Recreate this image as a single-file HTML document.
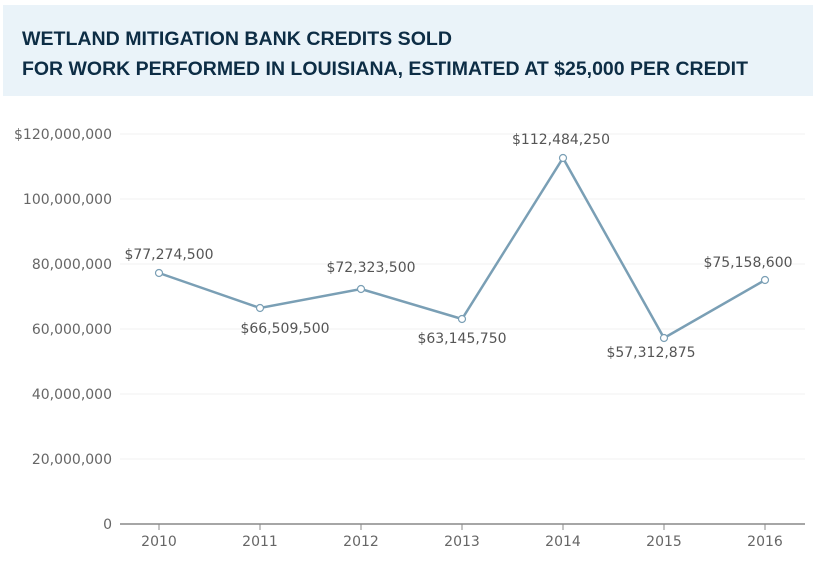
<!DOCTYPE html>
<html><head><style>
body{margin:0;background:#fff;width:820px;height:574px;overflow:hidden}
</style></head><body>
<svg width="820" height="574" xmlns="http://www.w3.org/2000/svg">
<rect x="3" y="5" width="810" height="91" fill="#eaf3f9"/>
<g font-family="Liberation Sans, sans-serif" font-weight="bold" font-size="19" fill="#0d2d45">
<text x="22" y="45" textLength="430" lengthAdjust="spacingAndGlyphs">WETLAND MITIGATION BANK CREDITS SOLD</text>
<text x="22" y="75" textLength="726" lengthAdjust="spacingAndGlyphs">FOR WORK PERFORMED IN LOUISIANA, ESTIMATED AT $25,000 PER CREDIT</text>
</g>
<g stroke="#f0f0f0" stroke-width="1">
<line x1="120" x2="805" y1="134" y2="134"/>
<line x1="120" x2="805" y1="199" y2="199"/>
<line x1="120" x2="805" y1="264" y2="264"/>
<line x1="120" x2="805" y1="329" y2="329"/>
<line x1="120" x2="805" y1="394" y2="394"/>
<line x1="120" x2="805" y1="459" y2="459"/>
</g>
<line x1="120" x2="805" y1="524" y2="524" stroke="#888" stroke-width="1.5"/>
<g stroke="#888"><line x1="159" x2="159" y1="524" y2="530"/><line x1="260" x2="260" y1="524" y2="530"/><line x1="361" x2="361" y1="524" y2="530"/><line x1="462" x2="462" y1="524" y2="530"/><line x1="563" x2="563" y1="524" y2="530"/><line x1="664" x2="664" y1="524" y2="530"/><line x1="765" x2="765" y1="524" y2="530"/></g>
<g font-family="DejaVu Sans, sans-serif" font-size="14" fill="#666" text-anchor="end">
<text x="112" y="139">$120,000,000</text>
<text x="112" y="204">100,000,000</text>
<text x="112" y="269">80,000,000</text>
<text x="112" y="334">60,000,000</text>
<text x="112" y="399">40,000,000</text>
<text x="112" y="464">20,000,000</text>
<text x="112" y="529">0</text>
</g>
<g font-family="DejaVu Sans, sans-serif" font-size="14" fill="#666" text-anchor="middle">
<text x="159" y="546">2010</text><text x="260" y="546">2011</text><text x="361" y="546">2012</text><text x="462" y="546">2013</text><text x="563" y="546">2014</text><text x="664" y="546">2015</text><text x="765" y="546">2016</text>
</g>
<polyline fill="none" stroke="#7a9fb5" stroke-width="2.5" points="159,273 260,308 361,289 462,319 563,158 664,338 765,280"/>
<g fill="#fff" stroke="#7a9fb5" stroke-width="1.2">
<circle cx="159" cy="273" r="3.5"/><circle cx="260" cy="308" r="3.5"/><circle cx="361" cy="289" r="3.5"/><circle cx="462" cy="319" r="3.5"/><circle cx="563" cy="158" r="3.5"/><circle cx="664" cy="338" r="3.5"/><circle cx="765" cy="280" r="3.5"/>
</g>
<g font-family="DejaVu Sans, sans-serif" font-size="14" fill="#555" text-anchor="middle">
<text x="169" y="259">$77,274,500</text>
<text x="285" y="333">$66,509,500</text>
<text x="371" y="272">$72,323,500</text>
<text x="462" y="343">$63,145,750</text>
<text x="561" y="144">$112,484,250</text>
<text x="651" y="357">$57,312,875</text>
<text x="748" y="267">$75,158,600</text>
</g>
</svg>
</body></html>
